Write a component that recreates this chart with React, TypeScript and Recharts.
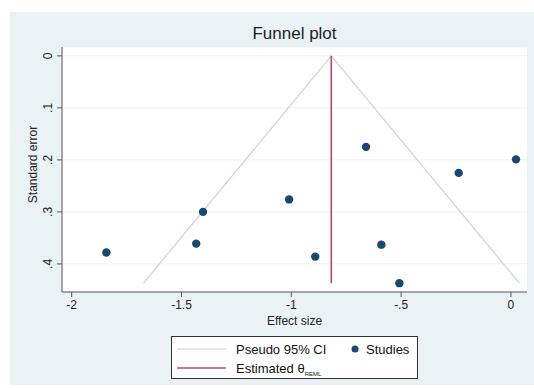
import React from "react";
import { ScatterChart, Scatter, XAxis, YAxis, CartesianGrid, Legend, Label } from "recharts";

// study estimates
const studyEffect = [-0.66, 0.023, -0.238, -1.01, -1.402, -1.433, -1.842, -0.891, -0.59, -0.508];
const studySE = [0.175, 0.199, 0.225, 0.276, 0.3, 0.361, 0.378, 0.386, 0.363, 0.437];

// pseudo 95% CI funnel (left bottom, apex, right bottom)
const ciEffect = [-1.673, -0.818, 0.038];
const ciSE = [0.437, 0, 0.437];

// estimated theta (REML)
const thetaEffect = [-0.818, -0.818];
const thetaSE = [0, 0.437];

const xTicks = [-2, -1.5, -1, -0.5, 0];
const yTicks = [0, 0.1, 0.2, 0.3, 0.4];

const studies = studyEffect.map((x, i) => ({ x, y: studySE[i] }));
const funnel = ciEffect.map((x, i) => ({ x, y: ciSE[i] }));
const theta = thetaEffect.map((x, i) => ({ x, y: thetaSE[i] }));

const FONT = "'Liberation Sans', Arial, sans-serif";
const NAVY = "#1a476f";
const MAROON = "#b8485f";
const CI_GRAY = "#d9cccc";

const fmt = (v: number) => {
  if (v === 0) return "0";
  const s = String(v);
  return s.replace(/^(-?)0\./, "$1.");
};

const YTick = (props: any) => {
  const { x, y, payload } = props;
  const bx = x - 3;
  return (
    <text
      x={bx}
      y={y}
      transform={`rotate(-90 ${bx} ${y})`}
      textAnchor="middle"
      fontSize={12}
      fontFamily={FONT}
      fill="#222"
    >
      {fmt(payload.value)}
    </text>
  );
};

const LegendBox = () => (
  <svg width={247} height={43} style={{ display: "block" }}>
    <rect x={0.5} y={0.5} width={246} height={42} fill="#fff" stroke="#333" />
    <line x1={6} x2={55} y1={13} y2={13} stroke={CI_GRAY} strokeWidth={1.2} />
    <text x={65} y={17.5} fontSize={13} fontFamily={FONT} fill="#111">
      Pseudo 95% CI
    </text>
    <circle cx={184} cy={13} r={3.5} fill={NAVY} />
    <text x={195} y={17.5} fontSize={13} fontFamily={FONT} fill="#111">
      Studies
    </text>
    <line x1={6} x2={55} y1={32} y2={32} stroke={MAROON} strokeWidth={1.6} />
    <text x={65} y={36.5} fontSize={13} fontFamily={FONT} fill="#111">
      Estimated θ
      <tspan fontSize={6} dy={3}>REML</tspan>
    </text>
  </svg>
);

export default function App() {
  return (
    <div style={{ position: "absolute", left: 0, top: 0, width: 534, height: 388, background: "#fff" }}>
      <div
        style={{
          position: "absolute",
          left: 10,
          top: 12,
          width: 524,
          height: 373,
          background: "#eaf2f5",
        }}
      />
      <div
        style={{
          position: "absolute",
          left: 62,
          width: 465,
          top: 24,
          textAlign: "center",
          fontFamily: FONT,
          fontSize: 17,
          color: "#1e1e1e",
        }}
      >
        Funnel plot
      </div>
      <div style={{ position: "absolute", left: 0, top: 0 }}>
        <ScatterChart width={534} height={388} margin={{ top: 47, right: 7, bottom: 66, left: 10 }}>
          <CartesianGrid vertical={false} stroke="#edf2f4" fill="#fff" />
          <XAxis
            type="number"
            dataKey="x"
            domain={[-2.044, 0.073]}
            ticks={xTicks}
            allowDataOverflow
            height={30}
            tickFormatter={fmt}
            stroke="#555"
            tick={{ fill: "#222", fontSize: 12, fontFamily: FONT }}
            tickSize={5}
            tickMargin={3}
          >
            <Label
              value="Effect size"
              position="bottom"
              offset={-6}
              style={{ fontSize: 12, fontFamily: FONT, fill: "#222" }}
            />
          </XAxis>
          <YAxis
            type="number"
            dataKey="y"
            reversed
            domain={[-0.017, 0.454]}
            ticks={yTicks}
            allowDataOverflow
            width={52}
            stroke="#555"
            tick={<YTick />}
            tickSize={5}
            tickMargin={2}
          >
            <Label
              content={(p: any) => {
                const vb = p.viewBox;
                const cx = 37;
                const cy = vb.y + vb.height / 2 - 5;
                return (
                  <text
                    x={cx}
                    y={cy}
                    transform={`rotate(-90 ${cx} ${cy})`}
                    textAnchor="middle"
                    fontSize={12}
                    fontFamily={FONT}
                    fill="#222"
                  >
                    Standard error
                  </text>
                );
              }}
            />
          </YAxis>
          <Scatter
            name="Pseudo 95% CI"
            data={funnel}
            line={{ stroke: CI_GRAY, strokeWidth: 1.2 }}
            shape={() => <g />}
            isAnimationActive={false}
          />
          <Scatter
            name="Estimated theta"
            data={theta}
            line={{ stroke: MAROON, strokeWidth: 1.6 }}
            shape={() => <g />}
            isAnimationActive={false}
          />
          <Scatter
            name="Studies"
            data={studies}
            fill={NAVY}
            shape={(p: any) => <circle cx={p.cx} cy={p.cy} r={4.2} fill={NAVY} />}
            isAnimationActive={false}
          />
          <Legend
            layout="vertical"
            align="center"
            verticalAlign="middle"
            wrapperStyle={{ left: 171, top: 336, width: 247, height: 43 }}
            content={() => <LegendBox />}
          />
        </ScatterChart>
      </div>
    </div>
  );
}
